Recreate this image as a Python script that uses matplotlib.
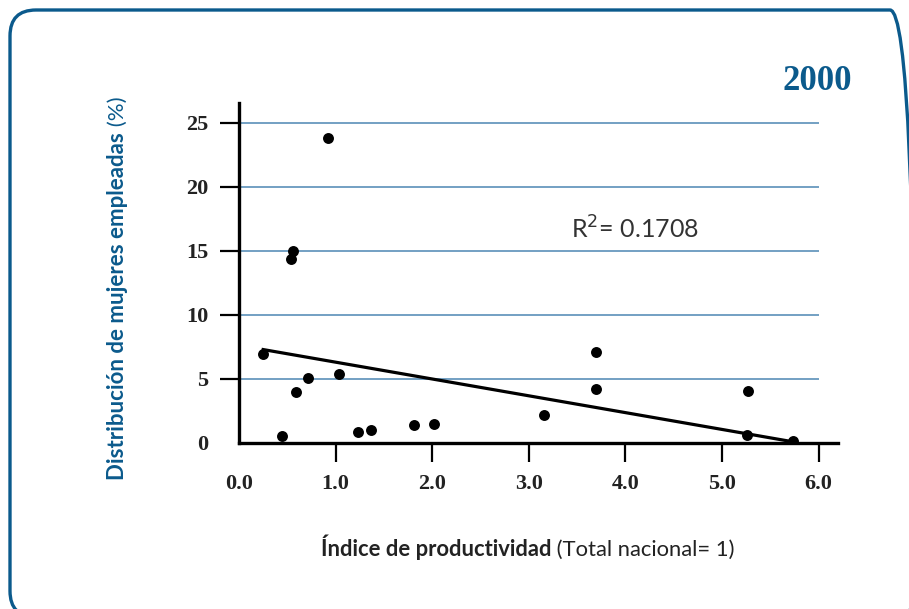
import matplotlib.pyplot as plt
from matplotlib.patches import FancyBboxPatch
from matplotlib.transforms import IdentityTransform

# productivity index vs share of employed women, year 2000
productividad = [0.25, 0.45, 0.56, 0.54, 0.59, 0.71, 0.92, 1.03, 1.23, 1.37,
                 1.81, 2.02, 3.16, 3.70, 3.70, 5.27, 5.26, 5.73]
mujeres = [6.95, 0.55, 14.98, 14.35, 3.98, 5.08, 23.8, 5.39, 0.83, 0.99,
           1.43, 1.51, 2.19, 7.13, 4.22, 4.09, 0.60, 0.18]
# trend line as drawn in the source
trend_x = [0.25, 5.73]
trend_y = [7.3, 0.1]
x_ticks = [0, 1, 2, 3, 4, 5, 6]
y_ticks = [0, 5, 10, 15, 20, 25]
r2_text = "R$^2$= 0.1708"
year = "2000"

BLUE = "#0b5a8c"
GRID = "#4d86b3"

fig = plt.figure(figsize=(9.09, 6.09), dpi=100)

# rounded frame round the whole chart (right and bottom edges run off the image)
frame = FancyBboxPatch((10, -8), 906, 607, boxstyle="round,pad=0,rounding_size=26",
                       transform=IdentityTransform(), fill=False,
                       edgecolor=BLUE, linewidth=2.4)
fig.patches.append(frame)

ax = fig.add_axes([239 / 909, 1 - 443 / 609, 599 / 909, 340.5 / 609])
ax.set_xlim(0, 6.2)
ax.set_ylim(0, 26.6)

for y in y_ticks[1:]:
    ax.hlines(y, 0, 6.0, color=GRID, linewidth=1.1, zorder=1)

ax.plot(trend_x, trend_y, color="black", linewidth=2.3, zorder=2)
ax.scatter(productividad, mujeres, s=62, color="black", zorder=3, linewidths=0)

ax.text(3.44, 16.0, r2_text, fontsize=18, family="Lato", color="#333333",
        va="baseline", ha="left")

for s in ["top", "right"]:
    ax.spines[s].set_visible(False)
for s in ["left", "bottom"]:
    ax.spines[s].set_linewidth(2.4)

ax.set_xticks(x_ticks)
ax.set_xticklabels([f"{v:.1f}" for v in x_ticks])
ax.set_yticks(y_ticks)
ax.set_yticklabels([str(v) for v in y_ticks])
ax.tick_params(axis="x", direction="out", length=14, width=1.6, pad=8)
ax.tick_params(axis="y", direction="out", length=14, width=1.6, pad=8)
ax.xaxis.get_major_ticks()[0].tick1line.set_visible(False)
ax.yaxis.get_major_ticks()[0].tick1line.set_visible(False)
for lab in ax.get_xticklabels() + ax.get_yticklabels():
    lab.set_family("Liberation Serif")
    lab.set_fontweight("bold")
    lab.set_fontsize(16)
    lab.set_color("#222222")

fig.text(852 / 909, 1 - 82 / 609, year, fontsize=25, family="Liberation Serif",
         fontweight="bold", color=BLUE, ha="right", va="center")

# axis titles, bold part + regular part
fig.canvas.draw()
r = fig.canvas.get_renderer()

xb = fig.text(0, 0, "Índice de productividad", fontsize=15.8, family="Lato",
              fontweight="bold", color="#222222", va="baseline")
xr = fig.text(0, 0, " (Total nacional= 1)", fontsize=15.8, family="Lato",
              color="#222222", va="baseline")
wb = xb.get_window_extent(r).width
wr = xr.get_window_extent(r).width
x0 = (528 - (wb + wr) / 2) / 909
base = 1 - 556 / 609
xb.set_position((x0, base))
xr.set_position((x0 + wb / 909, base))

yb = fig.text(0, 0, "Distribución de mujeres empleadas", fontsize=16, family="Lato",
              fontweight="bold", color=BLUE, rotation=90, ha="center", va="bottom")
yr = fig.text(0, 0, " (%)", fontsize=16, family="Lato", color=BLUE,
              rotation=90, ha="center", va="bottom")
hb = yb.get_window_extent(r).height
hr = yr.get_window_extent(r).height
y0 = (609 - 288) - (hb + hr) / 2
yb.set_position((118 / 909, y0 / 609))
yr.set_position((118 / 909, (y0 + hb) / 609))

fig.savefig("out.png", dpi=100)
